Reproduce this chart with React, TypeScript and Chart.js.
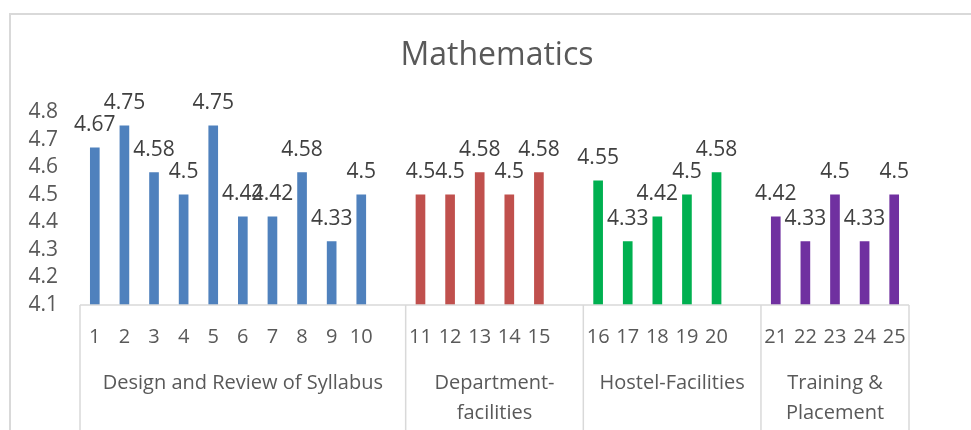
import React, { useEffect, useRef } from "react";
import { Chart, registerables } from "chart.js";

Chart.register(...registerables);

const chartTitle = "Mathematics";
const designSyllabus = [4.67, 4.75, 4.58, 4.5, 4.75, 4.42, 4.42, 4.58, 4.33, 4.5];
const departmentFacilities = [4.5, 4.5, 4.58, 4.5, 4.58];
const hostelFacilities = [4.55, 4.33, 4.42, 4.5, 4.58];
const trainingPlacement = [4.42, 4.33, 4.5, 4.33, 4.5];
const groupNames: string[][] = [
  ["Design and Review of Syllabus"],
  ["Department-", "facilities"],
  ["Hostel-Facilities"],
  ["Training &", "Placement"],
];
const groupColors = ["#4F81BD", "#C0504D", "#00B050", "#7030A0"];
// blank category rows that follow each group in the source sheet
const blankAfterGroup = [true, true, true, false];
const yTicks = [4.1, 4.2, 4.3, 4.4, 4.5, 4.6, 4.7, 4.8];

const groupValues = [designSyllabus, departmentFacilities, hostelFacilities, trainingPlacement];

const FONT = "'Open Sans', sans-serif";

export default function App() {
  const ref = useRef<HTMLCanvasElement | null>(null);

  useEffect(() => {
    if (!ref.current) return;
    const labels: string[] = [];
    const data: (number | null)[] = [];
    const colors: string[] = [];
    const groupRanges: { start: number; end: number }[] = [];
    let n = 1;
    groupValues.forEach((vals, g) => {
      const start = labels.length;
      vals.forEach((v) => {
        labels.push(String(n++));
        data.push(v);
        colors.push(groupColors[g]);
      });
      if (blankAfterGroup[g]) {
        labels.push("");
        data.push(null);
        colors.push(groupColors[g]);
      }
      groupRanges.push({ start, end: labels.length - 1 });
    });

    const decor = {
      id: "decor",
      beforeDraw(chart: any) {
        const ctx = chart.ctx;
        ctx.save();
        ctx.fillStyle = "#ffffff";
        ctx.fillRect(0, 0, chart.width, chart.height);
        ctx.strokeStyle = "#D9D9D9";
        ctx.lineWidth = 2;
        ctx.strokeRect(10, 14, 3000, 3000);
        ctx.fillStyle = "#595959";
        ctx.font = `32px ${FONT}`;
        ctx.textAlign = "center";
        ctx.textBaseline = "middle";
        ctx.fillText(chartTitle, 497, 56);
        ctx.restore();
      },
      afterDraw(chart: any) {
        const ctx = chart.ctx;
        const xs = chart.scales.x;
        const area = chart.chartArea;
        const half = (xs.getPixelForValue(1) - xs.getPixelForValue(0)) / 2;
        ctx.save();
        ctx.strokeStyle = "#D9D9D9";
        ctx.lineWidth = 1.5;
        ctx.beginPath();
        ctx.moveTo(area.left, area.bottom);
        ctx.lineTo(area.right, area.bottom);
        const bounds = [area.left];
        groupRanges.forEach((r) => bounds.push(xs.getPixelForValue(r.end) + half));
        bounds.forEach((b) => {
          ctx.moveTo(b, area.bottom);
          ctx.lineTo(b, chart.height);
        });
        ctx.stroke();
        ctx.fillStyle = "#595959";
        ctx.font = `20px ${FONT}`;
        ctx.textAlign = "center";
        ctx.textBaseline = "middle";
        groupRanges.forEach((r, g) => {
          const cx = (xs.getPixelForValue(r.start) - half + xs.getPixelForValue(r.end) + half) / 2;
          groupNames[g].forEach((line, i) => {
            ctx.fillText(line, cx, area.bottom + 78 + i * 30);
          });
        });
        ctx.restore();
      },
      afterDatasetsDraw(chart: any) {
        const ctx = chart.ctx;
        const meta = chart.getDatasetMeta(0);
        ctx.save();
        ctx.fillStyle = "#404040";
        ctx.font = `21px ${FONT}`;
        ctx.textAlign = "center";
        ctx.textBaseline = "alphabetic";
        meta.data.forEach((bar: any, i: number) => {
          const v = data[i];
          if (v == null) return;
          ctx.fillText(String(v), bar.x, bar.y - 17);
        });
        ctx.restore();
      },
    };

    const chart = new Chart(ref.current, {
      type: "bar",
      data: {
        labels,
        datasets: [
          {
            data,
            backgroundColor: colors,
            barThickness: 9,
          },
        ],
      },
      options: {
        responsive: false,
        animation: false,
        layout: { padding: { top: 112, left: 0, right: 62, bottom: 0 } },
        plugins: {
          legend: { display: false },
          tooltip: { enabled: false },
          title: { display: false },
        },
        scales: {
          x: {
            grid: { display: false, drawTicks: false },
            border: { display: false },
            ticks: {
              autoSkip: false,
              maxRotation: 0,
              minRotation: 0,
              padding: 20,
              color: "#595959",
              font: { family: FONT, size: 20 },
            },
            afterFit: (s: any) => {
              s.height = 125;
            },
          },
          y: {
            min: 4.1,
            max: 4.8,
            grid: { display: false, drawTicks: false },
            border: { display: false },
            afterBuildTicks: (s: any) => {
              s.ticks = yTicks.map((v) => ({ value: v }));
            },
            ticks: {
              autoSkip: false,
              padding: 22,
              color: "#595959",
              font: { family: FONT, size: 21 },
              callback: (v: any) => Number(v).toFixed(1),
            },
            afterFit: (s: any) => {
              s.width = 80;
            },
          },
        },
      },
      plugins: [decor],
    });
    return () => chart.destroy();
  }, []);

  return (
    <div style={{ position: "fixed", left: 0, top: 0, width: 971, height: 430 }}>
      <canvas ref={ref} width={971} height={430} style={{ width: 971, height: 430 }} />
    </div>
  );
}
